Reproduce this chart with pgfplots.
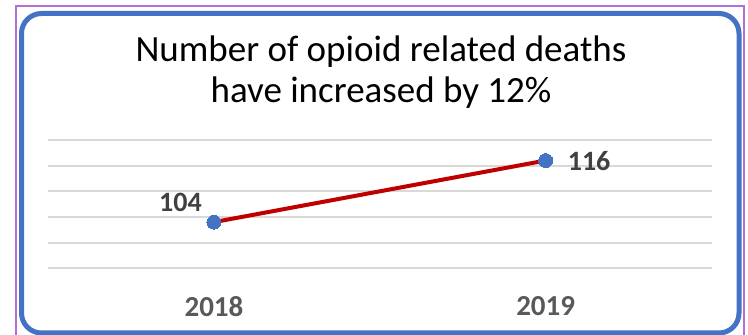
\documentclass[border=0pt]{standalone}
\usepackage{pgfplots}
\pgfplotsset{compat=1.18}
\usepackage{fontspec}
\setmainfont{Carlito}
\definecolor{bluemk}{HTML}{4472C4}
\definecolor{redln}{HTML}{C00000}
\definecolor{gridc}{HTML}{D9D9D9}
\definecolor{purp}{HTML}{B26FD6}
\definecolor{labc}{HTML}{404040}
\definecolor{tickc}{HTML}{595959}
\begin{document}
\begin{tikzpicture}
\useasboundingbox (0pt,0pt) rectangle (748pt,335pt);
\begin{scope}
\clip (0pt,0pt) rectangle (748pt,335pt);
\draw[purp, line width=1.2pt] (16pt,-5pt) -- (16pt,329pt) -- (744pt,329pt) -- (744pt,-5pt);
\draw[bluemk, line width=5pt, rounded corners=20pt] (21.5pt,2pt) rectangle (739pt,321.5pt);
\end{scope}
\node[anchor=base, inner sep=0pt, font=\fontsize{37}{42}\selectfont] at (381pt,273pt) {Number of opioid related deaths};
\node[anchor=base, inner sep=0pt, font=\fontsize{37}{42}\selectfont] at (381pt,232pt) {have increased by 12\%};
\begin{axis}[
  at={(48.1pt,66.7pt)}, anchor=south west,
  scale only axis, width=663.4pt, height=128.3pt,
  xmin=-0.5, xmax=1.5, ymin=95, ymax=120,
  ytick={95,100,105,110,115,120}, yticklabels={},
  xtick={0,1}, xticklabels={2018,2019},
  axis line style={draw=none},
  major tick length=0pt,
  ymajorgrids,
  major grid style={gridc, line width=2pt},
  xticklabel style={anchor=north, inner sep=0pt, yshift=-28pt, text=tickc, font=\fontsize{29}{32}\selectfont\bfseries},
  clip=false,
]
\addplot[redln, line width=4pt, mark=*, mark size=7pt, mark options={draw=bluemk, fill=bluemk, line width=0pt}] coordinates {(0,104) (1,116)};
\node[anchor=base east, inner sep=0pt, xshift=-12pt, yshift=10.5pt, text=labc, font=\fontsize{28}{32}\selectfont\bfseries] at (axis cs:0,104) {104};
\node[anchor=west, inner sep=0pt, xshift=22pt, yshift=-1pt, text=labc, font=\fontsize{28}{32}\selectfont\bfseries] at (axis cs:1,116) {116};
\end{axis}
\end{tikzpicture}
\end{document}
